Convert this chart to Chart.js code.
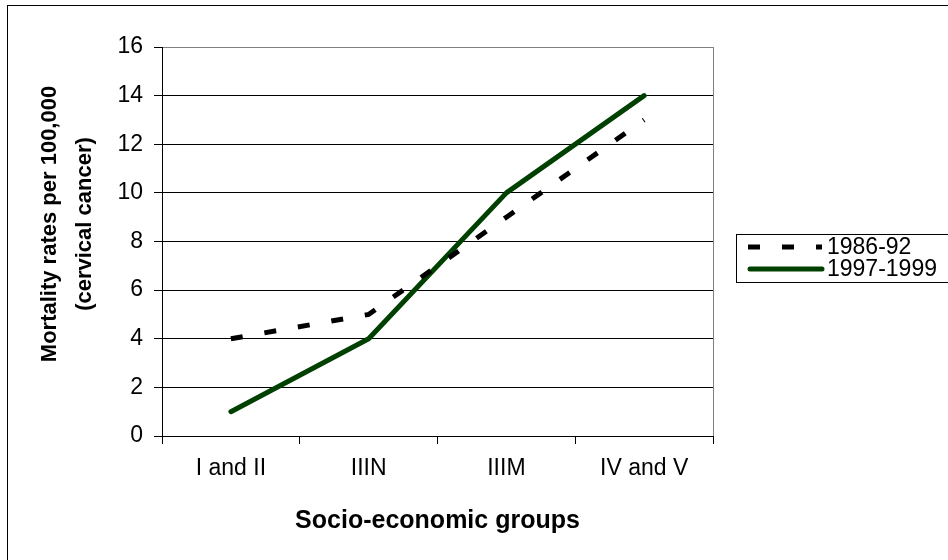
<!DOCTYPE html>
<html>
<head>
<meta charset="utf-8">
<script src="https://cdn.jsdelivr.net/npm/chart.js@4.4.1/dist/chart.umd.min.js"></script>
<style>
  html, body { margin: 0; padding: 0; background: #fff; }
  #wrap { position: relative; width: 948px; height: 560px; overflow: hidden; }
  #frame { position: absolute; left: 7px; top: 5px; width: 960px; height: 600px;
           border-left: 1px solid #000; border-top: 1px solid #000; pointer-events: none; }
  canvas { position: absolute; left: 0; top: 0; }
</style>
</head>
<body>
<div id="wrap">
  <canvas id="chart" width="948" height="560"></canvas>
  <div id="frame"></div>
</div>
<script>
// chart data
const categories = ['I and II', 'IIIN', 'IIIM', 'IV and V'];
const rates1986 = [4, 5, 9, 13];
const rates1997 = [1, 4, 10, 14];
const seriesLabels = ['1986-92', '1997-1999'];
const yTitleLines = ['Mortality rates per 100,000', '(cervical cancer)'];
const xTitle = 'Socio-economic groups';

const FONT = "'Liberation Sans', Arial, sans-serif";

// gray frame on the right side of the plot area
const plotFrame = {
  id: 'plotFrame',
  beforeDatasetsDraw(chart) {
    const { ctx, chartArea: a } = chart;
    ctx.save();
    ctx.strokeStyle = '#808080';
    ctx.lineWidth = 1;
    ctx.beginPath();
    ctx.moveTo(Math.round(a.right) + 0.5, a.top);
    ctx.lineTo(Math.round(a.right) + 0.5, a.bottom);
    ctx.stroke();
    ctx.restore();
  }
};

// two-line rotated y axis title, placed like the original
const yTitle = {
  id: 'yTitle',
  afterDraw(chart) {
    const { ctx } = chart;
    ctx.save();
    ctx.fillStyle = '#000';
    ctx.font = 'bold 22px ' + FONT;
    ctx.textAlign = 'center';
    ctx.textBaseline = 'middle';
    const xs = [50, 85];
    yTitleLines.forEach((line, i) => {
      ctx.save();
      ctx.translate(xs[i], 224);
      ctx.rotate(-Math.PI / 2);
      ctx.fillText(line, 0, 0);
      ctx.restore();
    });
    ctx.restore();
  }
};

// boxed legend with line samples, built from the datasets
const boxLegend = {
  id: 'boxLegend',
  afterDraw(chart) {
    const { ctx } = chart;
    const box = { x: 736, y: 234, w: 215, h: 48 };
    ctx.save();
    ctx.strokeStyle = '#000';
    ctx.lineWidth = 1;
    ctx.strokeRect(box.x + 0.5, box.y + 0.5, box.w, box.h);
    ctx.font = '23px ' + FONT;
    ctx.textBaseline = 'middle';
    ctx.fillStyle = '#000';
    chart.data.datasets.forEach((ds, i) => {
      const y = box.y + 13 + i * 22;
      ctx.save();
      ctx.strokeStyle = ds.borderColor;
      ctx.lineWidth = ds.borderWidth;
      ctx.setLineDash(ds.borderDash || []);
      ctx.lineCap = ds.borderCapStyle || 'butt';
      ctx.beginPath();
      const x0 = ds.borderDash ? box.x + 12 : box.x + 14;
      ctx.moveTo(x0, y);
      ctx.lineTo(box.x + 86, y);
      ctx.stroke();
      ctx.restore();
      ctx.fillText(ds.label, box.x + 91, y + 1);
    });
    ctx.restore();
  }
};

new Chart(document.getElementById('chart').getContext('2d'), {
  type: 'line',
  data: {
    labels: categories,
    datasets: [
      {
        label: seriesLabels[0],
        data: rates1986,
        borderColor: '#000000',
        borderWidth: 5,
        borderDash: [12, 22],
        borderCapStyle: 'butt',
        pointRadius: 0,
        tension: 0,
        fill: false
      },
      {
        label: seriesLabels[1],
        data: rates1997,
        borderColor: '#004000',
        borderWidth: 5,
        borderCapStyle: 'round',
        borderJoinStyle: 'round',
        pointRadius: 0,
        tension: 0,
        fill: false
      }
    ]
  },
  options: {
    responsive: false,
    animation: false,
    layout: { padding: { top: 47, right: 235, bottom: 0, left: 0 } },
    plugins: {
      legend: { display: false },
      tooltip: { enabled: false }
    },
    scales: {
      x: {
        offset: true,
        grid: {
          offset: true,
          drawOnChartArea: false,
          drawTicks: true,
          tickLength: 8,
          color: '#000'
        },
        border: { display: true, color: '#000', width: 1 },
        ticks: {
          color: '#000',
          font: { family: FONT, size: 23 },
          padding: 11,
          maxRotation: 0
        },
        title: {
          display: true,
          text: xTitle,
          color: '#000',
          font: { family: FONT, size: 25, weight: 'bold' },
          padding: { top: 0, bottom: 24 }
        },
        afterFit(scale) { scale.height = 124; }
      },
      y: {
        min: 0,
        max: 16,
        ticks: {
          stepSize: 2,
          color: '#000',
          font: { family: FONT, size: 23 },
          padding: 11
        },
        grid: {
          color: ctx => (ctx.tick && ctx.tick.value === 16 ? '#808080' : '#000'),
          tickColor: '#000',
          tickLength: 8,
          lineWidth: 1
        },
        border: { display: true, color: '#000', width: 1 },
        afterFit(scale) { scale.width = 162; }
      }
    }
  },
  plugins: [plotFrame, yTitle, boxLegend]
});
</script>
</body>
</html>
